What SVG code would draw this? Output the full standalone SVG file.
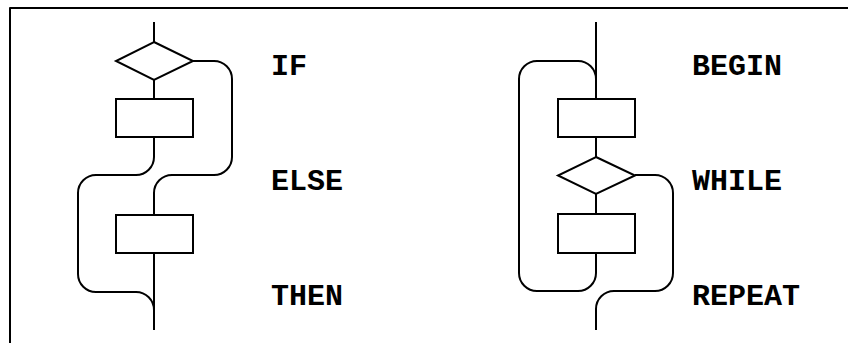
<svg xmlns="http://www.w3.org/2000/svg" width="848" height="343" viewBox="0 0 848 343">
<style>
.ln{fill:none;stroke:#000;stroke-width:2;stroke-linejoin:round}
.nd{fill:#fff;stroke:#000;stroke-width:2}
.lb{font-family:"Liberation Mono","Courier New",monospace;font-weight:bold;font-size:30px;fill:#000}
</style>
<rect width="848" height="343" fill="#fff"/>
<path class="ln" d="M10,343 V8 H848"/>
<g id="connectors">
<path class="ln" d="M154,22 V42"/>
<path class="ln" d="M154,80 V99"/>
<path class="ln" d="M154,137 V157 A18,18 0 0 1 136,175 H96 A18,18 0 0 0 78,193 V274 A18,18 0 0 0 96,292 H136 A18,18 0 0 1 154,310"/>
<path class="ln" d="M193,61 H214 A18,18 0 0 1 232,79 V157 A18,18 0 0 1 214,175 H172 A18,18 0 0 0 154,193 V215"/>
<path class="ln" d="M154,253 V330"/>
<path class="ln" d="M596,22 V99"/>
<path class="ln" d="M596,79 A18,18 0 0 0 578,61 H537 A18,18 0 0 0 519,79 V273 A18,18 0 0 0 537,291 H578 A18,18 0 0 0 596,273"/>
<path class="ln" d="M596,137 V157"/>
<path class="ln" d="M596,194 V214"/>
<path class="ln" d="M596,253 V273"/>
<path class="ln" d="M635,175 H655 A18,18 0 0 1 673,193 V273 A18,18 0 0 1 655,291 H614 A18,18 0 0 0 596,309 V330"/>
</g>
<g id="if-diamond"><polygon class="nd" points="154,42 193,61 154,80 116,61"/></g>
<g id="if-block"><rect class="nd" x="116" y="99" width="77" height="38"/></g>
<g id="else-block"><rect class="nd" x="116" y="215" width="77" height="38"/></g>
<g id="begin-block"><rect class="nd" x="558" y="99" width="77" height="38"/></g>
<g id="while-diamond"><polygon class="nd" points="596,157 635,175.5 596,194 558,175.5"/></g>
<g id="repeat-block"><rect class="nd" x="558" y="214" width="77" height="39"/></g>
<g id="labels">
<text class="lb" x="271" y="75">IF</text>
<text class="lb" x="271" y="190">ELSE</text>
<text class="lb" x="271" y="305">THEN</text>
<text class="lb" x="692" y="75">BEGIN</text>
<text class="lb" x="692" y="190">WHILE</text>
<text class="lb" x="692" y="305">REPEAT</text>
</g>
</svg>
